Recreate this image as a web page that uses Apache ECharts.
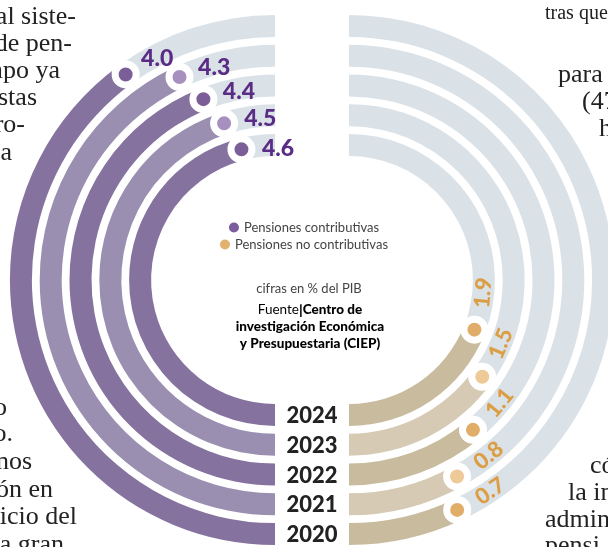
<!DOCTYPE html>
<html>
<head>
<meta charset="utf-8">
<script src="https://cdn.jsdelivr.net/npm/echarts@6/dist/echarts.min.js"></script>
<style>
html,body{margin:0;padding:0;background:#fff;}
#chart{width:608px;height:547px;}
</style>
</head>
<body>
<div id="chart"></div>
<script>
// ---- data ----
const years = ['2020', '2021', '2022', '2023', '2024'];
const contributivas = [4.0, 4.3, 4.4, 4.5, 4.6];
const noContributivas = [0.7, 0.8, 1.1, 1.5, 1.9];
const halfMax = 5; // value that fills a half circle

// ---- styles ----
const purpleBand = ['#85729f', '#9b8fb1'];
const purpleDot = ['#7b5e98', '#a78fbf'];
const tanBand = ['#c9bb9d', '#d6cab4'];
const tanDot = ['#e1ae69', '#edca97'];
const greyBand = '#dae2e8';
const purpleText = '#5a2c85';
const orangeText = '#dc9e45';
const ringCenterR = i => 254 - i * 29.75;   // pixel radius of ring i (for label spacing)
const angleUnit = 180 / halfMax;            // degrees per value unit
const offsetVal = (i, px) => (px / ringCenterR(i)) * 180 / Math.PI / angleUnit;

const chart = echarts.init(document.getElementById('chart'));

const polarCommonRadius = [120, 269];
const barSeries = (idx, stack) => ({
  type: 'bar', coordinateSystem: 'polar', polarIndex: idx, stack,
  barWidth: 22, silent: true
});
const hiddenAxis = { axisLine: {show: false}, axisTick: {show: false}, axisLabel: {show: false}, splitLine: {show: false} };

const option = {
  backgroundColor: '#fff',
  animation: false,
  polar: [
    { center: [275, 280], radius: polarCommonRadius },
    { center: [349, 280], radius: polarCommonRadius }
  ],
  angleAxis: [
    Object.assign({ polarIndex: 0, type: 'value', min: 0, max: halfMax * 2, startAngle: 270, clockwise: true }, hiddenAxis),
    Object.assign({ polarIndex: 1, type: 'value', min: 0, max: halfMax * 2, startAngle: 270, clockwise: false }, hiddenAxis)
  ],
  radiusAxis: [
    Object.assign({ polarIndex: 0, type: 'category', data: years, inverse: true }, hiddenAxis),
    Object.assign({ polarIndex: 1, type: 'category', data: years, inverse: true }, hiddenAxis)
  ],
  legend: [
    { data: [{ name: 'Pensiones contributivas', itemStyle: { color: '#7b5c9c' } }],
      top: 221, left: 'center', padding: 0, icon: 'circle', itemWidth: 10, itemHeight: 10,
      selectedMode: false, textStyle: { fontFamily: 'Lato', fontSize: 13, color: '#444' } },
    { data: [{ name: 'Pensiones no contributivas', itemStyle: { color: '#e3b16e' } }],
      top: 238, left: 'center', padding: 0, icon: 'circle', itemWidth: 10, itemHeight: 10,
      selectedMode: false, textStyle: { fontFamily: 'Lato', fontSize: 13, color: '#444' } }
  ],
  series: [
    Object.assign(barSeries(0, 'L'), { name: 'Pensiones contributivas',
      data: contributivas.map((v, i) => ({ value: v, itemStyle: { color: purpleBand[i % 2] } })) }),
    Object.assign(barSeries(0, 'L'), { name: 'restoL',
      data: contributivas.map(v => halfMax - v), itemStyle: { color: greyBand } }),
    Object.assign(barSeries(1, 'R'), { name: 'Pensiones no contributivas',
      data: noContributivas.map((v, i) => ({ value: v, itemStyle: { color: tanBand[i % 2] } })) }),
    Object.assign(barSeries(1, 'R'), { name: 'restoR',
      data: noContributivas.map(v => halfMax - v), itemStyle: { color: greyBand } }),
    // end dots
    { type: 'scatter', coordinateSystem: 'polar', polarIndex: 0, silent: true, z: 5,
      symbolSize: 21,
      data: contributivas.map((v, i) => ({ value: [i, v], itemStyle: { color: purpleDot[i % 2], borderColor: '#fff', borderWidth: 7, opacity: 1 } })) },
    { type: 'scatter', coordinateSystem: 'polar', polarIndex: 1, silent: true, z: 5,
      symbolSize: 21,
      data: noContributivas.map((v, i) => ({ value: [i, v], itemStyle: { color: tanDot[i % 2], borderColor: '#fff', borderWidth: 7, opacity: 1 } })) },
    // value labels
    { type: 'scatter', coordinateSystem: 'polar', polarIndex: 0, silent: true, z: 6,
      symbolSize: 0, itemStyle: { opacity: 1 },
      data: contributivas.map((v, i) => ({ value: [i, v + offsetVal(i, 36)],
        label: { show: true, position: 'inside', offset: [1, 3], formatter: v.toFixed(1),
          fontFamily: 'Lato', fontWeight: 900, fontSize: 23, color: purpleText } })) },
    { type: 'scatter', coordinateSystem: 'polar', polarIndex: 1, silent: true, z: 6,
      symbolSize: 0, itemStyle: { opacity: 1 },
      data: noContributivas.map((v, i) => {
        const a = v + offsetVal(i, 38);
        return { value: [i, a],
          label: { show: true, position: 'inside', formatter: v.toFixed(1), rotate: a * angleUnit,
            fontFamily: 'Lato', fontWeight: 900, fontSize: 22, color: orangeText } };
      }) },
    // year labels
    { type: 'scatter', coordinateSystem: 'polar', polarIndex: 0, silent: true, z: 6,
      symbolSize: 0, itemStyle: { opacity: 1 },
      data: years.map((y, i) => ({ value: [i, 0], name: y })),
      label: { show: true, position: 'inside', offset: [37, 1], formatter: p => p.name,
        fontFamily: 'Lato', fontWeight: 900, fontSize: 22, color: '#222' } }
  ],
  graphic: [
    { type: 'text', x: 309, y: 289, silent: true,
      style: { text: 'cifras en % del PIB', align: 'center', verticalAlign: 'middle',
        font: '13px Lato', fill: '#444' } },
    { type: 'text', x: 310, y: 327, silent: true,
      style: { text: '{r|Fuente}{p||}{b|Centro de}\n{b|investigación Económica}\n{b|y Presupuestaria (CIEP)}',
        align: 'center', verticalAlign: 'middle',
        rich: {
          r: { fontFamily: 'Lato', fontSize: 13.5, color: '#444', lineHeight: 17 },
          p: { fontFamily: 'Lato', fontSize: 14, fontWeight: 900, color: '#7a4fa0', lineHeight: 17 },
          b: { fontFamily: 'Lato', fontSize: 13.5, fontWeight: 900, color: '#222', lineHeight: 17 }
        } } }
  ]
};

// body text of the surrounding article (cut off by the frame)
const serif = '26px "Liberation Serif"';
const leftLines = [
  ['al siste-', 76, 17], ['de pen-', 72, 44], ['mpo ya', 60, 71], ['stas', 37, 98], ['ro-', 25, 125], ['a', 12, 153],
  ['o', 7, 408], ['o.', 13, 434], ['nos', 32, 462], ['ón en', 53, 490], ['uicio del', 77, 517], ['na gran', 64, 545]
];
const rightLines = [
  ['para', 558, 75], ['(47', 582, 102], ['h', 599, 129],
  ['có', 590, 466], ['la in', 568, 493], ['admin', 545, 520], ['pensi', 545, 546]
];
leftLines.forEach(([t, x, y]) => option.graphic.push({ type: 'text', x, y, silent: true,
  style: { text: t, align: 'right', verticalAlign: 'middle', font: serif, fill: '#222' } }));
rightLines.forEach(([t, x, y]) => option.graphic.push({ type: 'text', x, y, silent: true,
  style: { text: t, align: 'left', verticalAlign: 'middle', font: serif, fill: '#222' } }));
option.graphic.push({ type: 'text', x: 545, y: 14, silent: true,
  style: { text: 'tras que', align: 'left', verticalAlign: 'middle', font: '20px "Liberation Serif"', fill: '#222' } });

chart.setOption(option);
</script>
</body>
</html>
